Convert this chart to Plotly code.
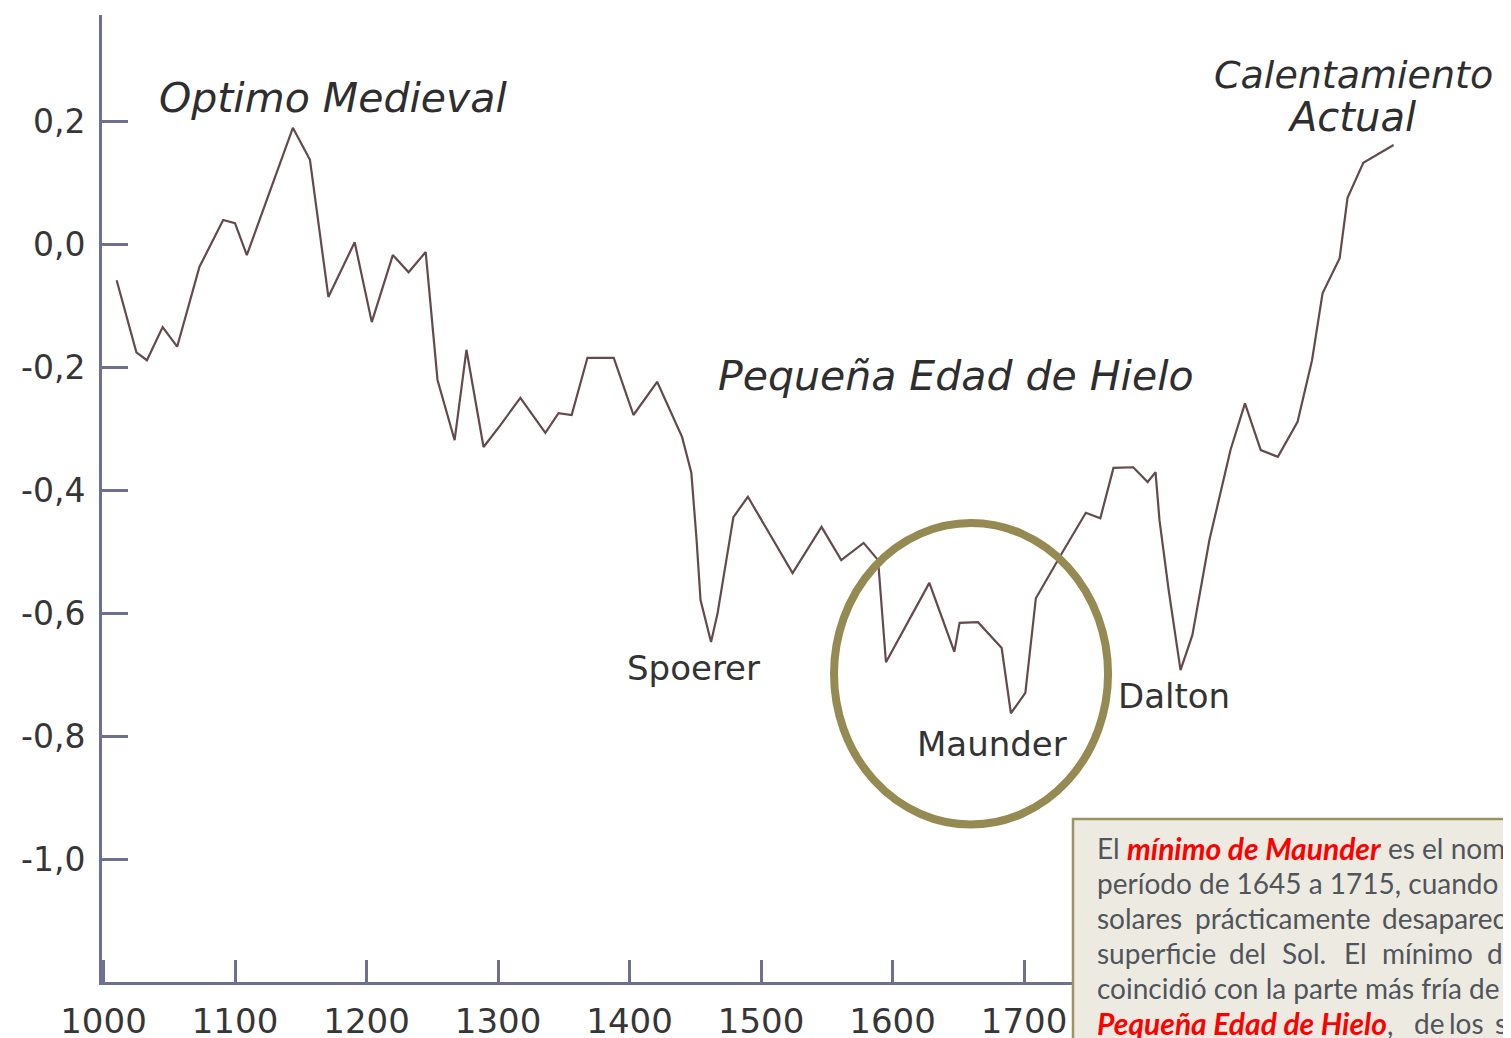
import plotly.graph_objects as go

# ---------------- data ----------------
years = [1010, 1025, 1033, 1045, 1056, 1073, 1091, 1100, 1109, 1144, 1157, 1171,
         1191, 1204, 1220, 1232, 1245, 1254, 1267, 1276, 1289, 1302, 1317, 1336,
         1346, 1356, 1368, 1388, 1403, 1421, 1440, 1447, 1451, 1454, 1462, 1467,
         1479, 1490, 1524, 1546, 1561, 1578, 1589, 1595, 1628, 1647, 1651, 1665,
         1683, 1690, 1701, 1709, 1729, 1747, 1758, 1768, 1783, 1794, 1800, 1803,
         1810, 1819, 1828, 1841, 1857, 1868, 1880, 1893, 1908, 1919, 1927, 1940,
         1946, 1958, 1981]
anomaly = [-0.059, -0.176, -0.189, -0.135, -0.167, -0.037, 0.039, 0.034, -0.018, 0.189,
           0.137, -0.086, 0.003, -0.127, -0.018, -0.046, -0.013, -0.221, -0.319, -0.172,
           -0.330, -0.294, -0.250, -0.307, -0.275, -0.278, -0.185, -0.185, -0.278, -0.224,
           -0.314, -0.372, -0.481, -0.579, -0.647, -0.600, -0.444, -0.411, -0.535, -0.460,
           -0.514, -0.486, -0.514, -0.680, -0.551, -0.663, -0.616, -0.615, -0.657, -0.763,
           -0.730, -0.576, -0.502, -0.437, -0.446, -0.364, -0.363, -0.387, -0.371, -0.449,
           -0.563, -0.693, -0.636, -0.481, -0.335, -0.259, -0.335, -0.346, -0.289, -0.189,
           -0.080, -0.023, 0.075, 0.132, 0.161]

x_tick_years = [1000, 1100, 1200, 1300, 1400, 1500, 1600, 1700]
x_tick_labels = ["1000", "1100", "1200", "1300", "1400", "1500", "1600", "1700"]
y_tick_values = [0.2, 0.0, -0.2, -0.4, -0.6, -0.8, -1.0]
y_tick_labels = ["0,2", "0,0", "-0,2", "-0,4", "-0,6", "-0,8", "-1,0"]

period_labels = ["Optimo Medieval", "Pequeña Edad de Hielo", "Calentamiento", "Actual"]
minimum_labels = ["Spoerer", "Maunder", "Dalton"]

# ---------------- figure geometry ----------------
# the page body adds an 8px offset, so the figure is sized to fill the window
OFF = 8
W, H = 1511 - OFF, 1038 - OFF
L, R, T, B = 94, 0, 7, 56
S_LEFT, S_RIGHT = L + OFF, W + OFF          # plot area in screen pixels
S_TOP, S_BOT = T + OFF, H - B + OFF

X0, X1 = 998.86, 2070.3
Y0, Y1 = -1.2, 0.3724

AXIS = "#6d7090"
TXT = "#363636"

fig = go.Figure()
fig.add_trace(go.Scatter(x=years, y=anomaly, mode="lines",
                         line=dict(color="#634a4c", width=2.2),
                         hoverinfo="skip", showlegend=False))

fig.update_layout(
    width=W, height=H,
    margin=dict(l=L, r=R, t=T, b=B, pad=0, autoexpand=False),
    paper_bgcolor="white", plot_bgcolor="white",
    showlegend=False,
    xaxis=dict(range=[X0, X1], showgrid=False, zeroline=False, automargin=False,
               showline=True, linecolor=AXIS, linewidth=3,
               ticks="inside", ticklen=22, tickwidth=2.5, tickcolor=AXIS,
               tickvals=x_tick_years, ticktext=x_tick_labels,
               ticklabelstandoff=7,
               tickfont=dict(family="DejaVu Sans", size=34, color=TXT)),
    yaxis=dict(range=[Y0, Y1], showgrid=False, zeroline=False, automargin=False,
               showline=True, linecolor=AXIS, linewidth=3,
               ticks="inside", ticklen=26, tickwidth=2.5, tickcolor=AXIS,
               tickvals=y_tick_values, ticktext=y_tick_labels,
               ticklabelstandoff=7,
               tickfont=dict(family="DejaVu Sans", size=33, color=TXT)),
)

# period labels (italic)
period_pos = [(1174.6, 0.237), (1648.3, -0.215), (1950.7, 0.275), (1949.2, 0.207)]
period_sizes = [41, 41, 38, 40]
for txt, (x, y), sz in zip(period_labels, period_pos, period_sizes):
    fig.add_annotation(x=x, y=y, xref="x", yref="y", text=f"<i>{txt}</i>",
                       showarrow=False, xanchor="center", yanchor="middle",
                       font=dict(family="DejaVu Sans", size=sz, color="#2e2e2e"))

# minima labels
minima_pos = [(1448.4, -0.689), (1675.6, -0.813), (1814.1, -0.735)]
for txt, (x, y) in zip(minimum_labels, minima_pos):
    fig.add_annotation(x=x, y=y, xref="x", yref="y", text=txt,
                       showarrow=False, xanchor="center", yanchor="middle",
                       font=dict(family="DejaVu Sans", size=34, color="#333333"))

# Maunder circle
fig.add_shape(type="circle", xref="x", yref="y",
              x0=1555.5, x1=1763.9, y0=-0.944, y1=-0.4537,
              line=dict(color="#958b52", width=8), layer="above")


# text box (positions given in screen pixels)
def px(xs):
    return (xs - S_LEFT) / (S_RIGHT - S_LEFT)


def py(ys):
    return (S_BOT - ys) / (S_BOT - S_TOP)


fig.add_shape(type="rect", xref="paper", yref="paper",
              x0=px(1073), x1=px(1560), y0=py(1070), y1=py(819),
              fillcolor="#edebe1", line=dict(color="#9c9262", width=2.5),
              layer="above")

GRAY = "#50555b"
RED = "#ff0000"
box_lines = [
    (848, [("El", 1095, False), ("mínimo de Maunder", 1125, True),
           ("es el nombre", 1386, False)]),
    (883, [("período de 1645 a 1715, cuando las", 1095, False)]),
    (918, [("solares", 1095, False), ("prácticamente", 1193, False),
           ("desaparecieron", 1380, False)]),
    (953, [("superficie", 1095, False), ("del", 1227, False), ("Sol.", 1280, False),
           ("El", 1342, False), ("mínimo", 1380, False), ("de", 1485, False)]),
    (988, [("coincidió con la parte más fría de la", 1095, False)]),
    (1023, [("Pequeña Edad de Hielo", 1095, True), ("de", 1412, False),
            ("los", 1447, False), ("siglos", 1493, False)]),
]
for ys, words in box_lines:
    for w, xs, red in words:
        if red:
            t = f"<b><i>{w}</i></b>"
            if w.startswith("Pequeña"):
                t += f"<span style='color:{GRAY}; font-size:28px'>,</span>"
        else:
            t = w
        fig.add_annotation(x=px(xs), y=py(ys), xref="paper", yref="paper",
                           text=t, showarrow=False, xanchor="left", yanchor="middle",
                           font=dict(family="Lato", size=30 if red else 28,
                                     color=RED if red else GRAY))

fig.write_html("out.html")
